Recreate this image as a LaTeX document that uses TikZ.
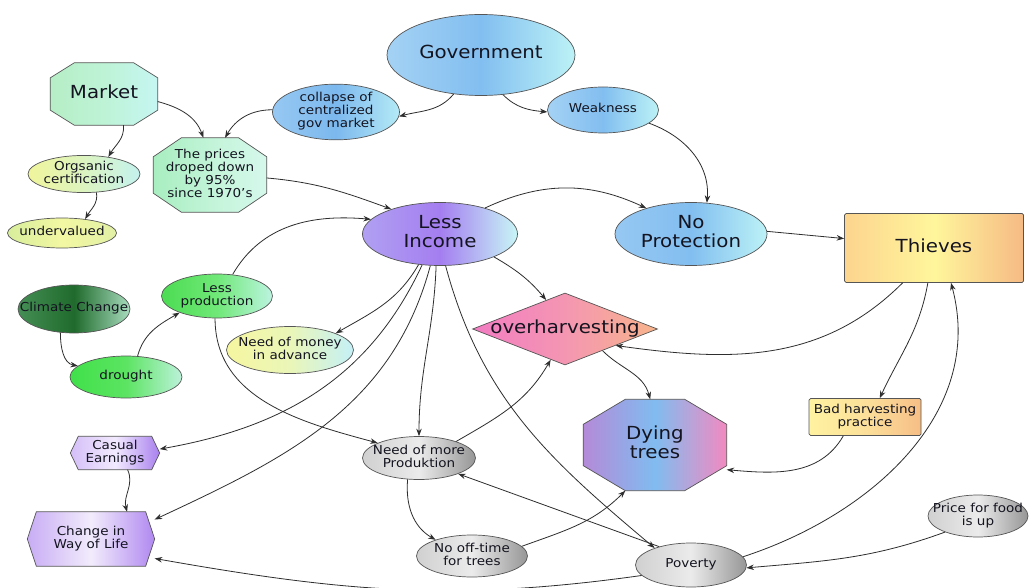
\documentclass[tikz,border=0pt]{standalone}
\usepackage{fontspec}
\setmainfont{DejaVu Sans}[FakeStretch=1.1]
\usetikzlibrary{shapes.geometric,arrows.meta,backgrounds}
\definecolor{bordc}{HTML}{555555}
\definecolor{edgec}{HTML}{2E2E2E}
\definecolor{txtc}{HTML}{141420}
\definecolor{mkL}{HTML}{B6EEC6}\definecolor{mkM}{HTML}{BEF3D6}\definecolor{mkR}{HTML}{C6F6F2}
\definecolor{orL}{HTML}{F0F59C}\definecolor{orM}{HTML}{DCF4C0}\definecolor{orR}{HTML}{C4F2EE}
\definecolor{unL}{HTML}{D8EE9C}\definecolor{unM}{HTML}{F2F7A2}\definecolor{unR}{HTML}{E2F0A6}
\definecolor{prL}{HTML}{A8EEC0}\definecolor{prM}{HTML}{C2F4D8}\definecolor{prR}{HTML}{D6F8EC}
\definecolor{coL}{HTML}{96C8F2}\definecolor{coM}{HTML}{7CB8EE}\definecolor{coR}{HTML}{B4EAF6}
\definecolor{goL}{HTML}{A4D2F4}\definecolor{goM}{HTML}{82BEF0}\definecolor{goR}{HTML}{BCF2F6}
\definecolor{inL}{HTML}{B0A0F2}\definecolor{inM}{HTML}{A47EF0}\definecolor{inR}{HTML}{C8F6F6}
\definecolor{thL}{HTML}{FCD48E}\definecolor{thM}{HTML}{FFF69C}\definecolor{thR}{HTML}{F6BA84}
\definecolor{ovL}{HTML}{F27CC2}\definecolor{ovM}{HTML}{F496B2}\definecolor{ovR}{HTML}{F8B48A}
\definecolor{lpL}{HTML}{4CDC52}\definecolor{lpM}{HTML}{70E878}\definecolor{lpR}{HTML}{BCF4E0}
\definecolor{clL}{HTML}{458E55}\definecolor{clM}{HTML}{1F6A2C}\definecolor{clR}{HTML}{A8DCBE}
\definecolor{drL}{HTML}{40E04A}\definecolor{drM}{HTML}{5CE462}\definecolor{drR}{HTML}{BCF2DA}
\definecolor{moL}{HTML}{F6F6A0}\definecolor{moM}{HTML}{EAF6B8}\definecolor{moR}{HTML}{C4F0F6}
\definecolor{caL}{HTML}{D4BEF8}\definecolor{caM}{HTML}{F2EAFE}\definecolor{caR}{HTML}{A880EE}
\definecolor{chL}{HTML}{C8ACF4}\definecolor{chM}{HTML}{F2ECFC}\definecolor{chR}{HTML}{B088F0}
\definecolor{grL}{HTML}{D0D0D0}\definecolor{grM}{HTML}{EBEBEB}\definecolor{grR}{HTML}{969696}
\definecolor{dyL}{HTML}{B48AD8}\definecolor{dyM}{HTML}{80BCF0}\definecolor{dyR}{HTML}{F28AC0}
\definecolor{baL}{HTML}{FFF2A0}\definecolor{baM}{HTML}{FCE09A}\definecolor{baR}{HTML}{F6BE86}
\newcommand\zw[1]{\makebox[0pt]{\begin{tabular}{@{}c@{}}#1\end{tabular}}}
\newcommand\octagonbg[4]{\begin{pgfonlayer}{background}\path[#4]
 ([xshift=#2]#1.north west) -- ([xshift=-#2]#1.north east) -- ([yshift=-#3]#1.north east)
 -- ([yshift=#3]#1.south east) -- ([xshift=-#2]#1.south east) -- ([xshift=#2]#1.south west)
 -- ([yshift=#3]#1.south west) -- ([yshift=-#3]#1.north west) -- cycle;\end{pgfonlayer}}
\newcommand\hexagonbg[3]{\begin{pgfonlayer}{background}\path[#3]
 ([xshift=#2]#1.north west) -- ([xshift=-#2]#1.north east) -- (#1.east)
 -- ([xshift=-#2]#1.south east) -- ([xshift=#2]#1.south west) -- (#1.west) -- cycle;\end{pgfonlayer}}
\begin{document}
\begin{tikzpicture}[x=1pt,y=1pt,
  base/.style={inner sep=0pt, draw=bordc, line width=0.7pt, text=txtc},
  ell/.style={base, ellipse},
  ghost/.style={inner sep=0pt, rectangle, draw=none, text=txtc},
  outline/.style={draw=bordc, line width=0.7pt},
  big/.style={font=\fontsize{18}{18.5}\selectfont},
  small/.style={font=\fontsize{12.3}{12.6}\selectfont},
  sh/.style n args={3}{left color=#1, right color=#2, middle color=#3},
  conn/.style={draw=edgec, line width=0.8pt, -{Stealth[length=7.5pt,width=5.5pt]}}]
\begin{pgfonlayer}{background}
\fill[white] (0,0) rectangle (1031,-588);
\end{pgfonlayer}
\useasboundingbox (0,0) rectangle (1031,-588);

% nodes
\node[ghost, big, minimum width=107pt, minimum height=62pt] (market) at (104,-94) {\zw{Market}};
\octagonbg{market}{24pt}{15pt}{outline, sh={mkL}{mkR}{mkM}}
\node[ell, small, sh={orL}{orR}{orM}, minimum width=112pt, minimum height=30pt] (org) at (84,-174) {\zw{Orgsanic\\certification}};
\node[ell, small, sh={unL}{unR}{unM}, minimum width=109pt, minimum height=30pt] (underv) at (62,-233) {\zw{undervalued}};
\node[ghost, small, minimum width=113pt, minimum height=74pt] (prices) at (210,-175) {\zw{The prices\\droped down\\by 95\%\\since 1970's}};
\octagonbg{prices}{28pt}{19pt}{outline, sh={prL}{prR}{prM}}
\node[ell, small, sh={coL}{coR}{coM}, minimum width=127pt, minimum height=51pt] (collapse) at (336,-112) {\zw{collapse of\\centralized\\gov market}};
\node[ell, big, sh={goL}{goR}{goM}, minimum width=188pt, minimum height=81pt] (gov) at (481,-55) {\zw{Government}};
\node[ell, small, sh={goL}{goR}{goM}, minimum width=111pt, minimum height=46pt] (weak) at (603,-110) {\zw{Weakness}};
\node[ell, big, sh={inL}{inR}{inM}, minimum width=155pt, minimum height=63pt] (income) at (440,-234) {\zw{Less\\Income}};
\node[ell, big, sh={coL}{goR}{goM}, minimum width=152pt, minimum height=63pt] (noprot) at (691,-234) {\zw{No\\Protection}};
\node[base, rectangle, rounded corners=1.5pt, big, sh={thL}{thR}{thM}, minimum width=179pt, minimum height=69pt] (thieves) at (934,-248) {\zw{Thieves}};
\node[base, diamond, big, sh={ovL}{ovR}{ovM}, minimum width=185pt, minimum height=72pt] (overh) at (565,-329) {\zw{overharvesting}};
\node[ell, small, sh={lpL}{lpR}{lpM}, minimum width=111pt, minimum height=44pt] (lessprod) at (217,-296) {\zw{Less\\production}};
\node[ell, small, sh={clL}{clR}{clM}, minimum width=112pt, minimum height=48pt] (climate) at (74,-309) {\zw{Climate Change}};
\node[ell, small, sh={drL}{drR}{drM}, minimum width=112pt, minimum height=42pt] (drought) at (126,-377) {\zw{drought}};
\node[ell, small, sh={moL}{moR}{moM}, minimum width=127pt, minimum height=47pt] (money) at (290,-350) {\zw{Need of money\\in advance}};
\node[ghost, small, minimum width=89pt, minimum height=33pt] (casual) at (115,-453) {\zw{Casual\\Earnings}};
\hexagonbg{casual}{8pt}{outline, sh={caL}{caR}{caM}}
\node[ghost, small, minimum width=127pt, minimum height=54pt] (change) at (91,-539) {\zw{Change in\\Way of Life}};
\hexagonbg{change}{9pt}{outline, sh={chL}{chR}{chM}}
\node[ell, small, sh={grL}{grR}{grM}, minimum width=113pt, minimum height=43pt] (needmore) at (419,-458) {\zw{Need of more\\Produktion}};
\node[ell, small, sh={grL}{grR}{grM}, minimum width=111pt, minimum height=42pt] (nooff) at (472,-556) {\zw{No off-time\\for trees}};
\node[ghost, big, minimum width=143pt, minimum height=91pt] (dying) at (655,-445) {\zw{Dying\\trees}};
\octagonbg{dying}{42pt}{25pt}{outline, sh={dyL}{dyR}{dyM}}
\node[base, rectangle, rounded corners=1.5pt, small, sh={baL}{baR}{baM}, minimum width=112pt, minimum height=37pt] (bad) at (865,-417) {\zw{Bad harvesting\\practice}};
\node[ell, small, sh={grL}{grR}{grM}, minimum width=111pt, minimum height=44pt] (poverty) at (691,-565) {\zw{Poverty}};
\node[ell, small, sh={grL}{grR}{grM}, minimum width=100pt, minimum height=42pt] (price) at (978,-516) {\zw{Price for food\\is up}};

% connectors
\draw[conn] (market.-8) to[out=-15, in=110] (prices.100);
\draw[conn] (market.-58) to[out=-85, in=60] (org.35);
\draw[conn] (org.-56) to[out=-80, in=60] (underv.31);
\draw[conn] (collapse.178) to[out=180, in=60] (prices.68);
\draw[conn] (gov.-125) to[out=-130, in=15] (collapse.-4);
\draw[conn] (gov.-61) to[out=-45, in=175] (weak.182);
\draw[conn] (weak.-16) to[out=-20, in=85] (noprot.63);
\draw[conn] (prices.-3) to[out=-5, in=160] (income.153);
\draw[conn] (lessprod.54) to[out=60, in=175] (income.168);
\draw[conn] (income.30) to[out=25, in=155] (noprot.150);
\draw[conn] (noprot.2) -- (thieves.174);
\draw[conn] (income.-23) to[out=-30, in=130] (overh.123);
\draw[conn] (thieves.-132) to[out=-135, in=-8] (overh.-18);
\draw[conn] (thieves.-100) to[out=-100, in=65] (bad.52);
\draw[conn] (bad.-139) to[out=-120, in=-5] (dying.-19);
\draw[conn] (overh.-30) to[out=-45, in=105] (dying.96);
\draw[conn] (poverty.9) to[out=18, in=-75] (thieves.-64);
\draw[conn] (price.-154) to[out=-160, in=5] (poverty.-3);
\draw[conn] (poverty.-168) to[out=-172, in=-10] (change.-17);
\draw[conn] (income.-80) to[out=-75, in=140] (poverty.155);
\draw[conn] (poverty.150) -- (needmore.-22);
\draw[conn] (nooff.11) to[out=20, in=-135] (dying.-123);
\draw[conn] (needmore.-118) to[out=-95, in=150] (nooff.156);
\draw[conn] (needmore.24) to[out=30, in=-120] (overh.-115);
\draw[conn] (income.-97) to[out=-92, in=90] (needmore.90);
\draw[conn] (lessprod.-95) to[out=-90, in=165] (needmore.160);
\draw[conn] (income.-125) to[out=-120, in=30] (money.20);
\draw[conn] (income.-120) to[out=-115, in=10] (casual.5);
\draw[conn] (income.-107) to[out=-105, in=25] (change.17);
\draw[conn] (casual.-53) to[out=-65, in=105] (change.37);
\draw[conn] (climate.-120) to[out=-90, in=170] (drought.167);
\draw[conn] (drought.61) to[out=75, in=-150] (lessprod.-156);
\end{tikzpicture}
\end{document}
